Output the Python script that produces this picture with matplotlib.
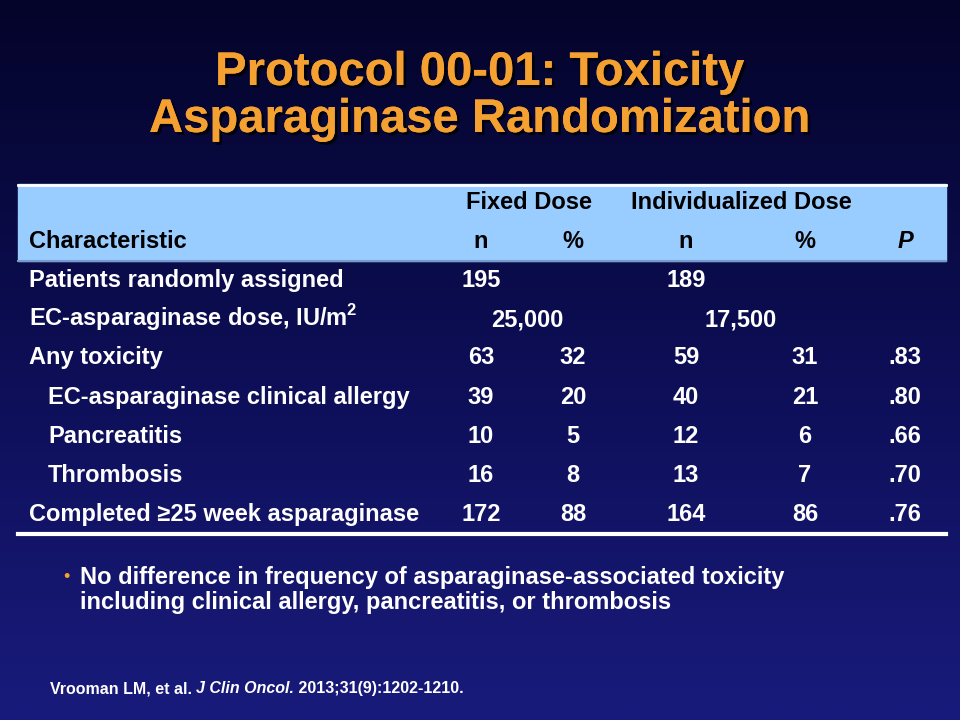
import numpy as np
import matplotlib.pyplot as plt
from matplotlib.colors import LinearSegmentedColormap
import matplotlib.patheffects as pe

plt.rcParams['font.family'] = ['Liberation Sans', 'DejaVu Sans']
plt.rcParams['mathtext.fontset'] = 'custom'
plt.rcParams['mathtext.rm'] = 'Liberation Sans:bold'

# table content
title_lines = ["Protocol 00-01: Toxicity", "Asparaginase Randomization"]
group_labels = ["Fixed Dose", "Individualized Dose"]
sub_labels = ["n", "%", "n", "%"]
row_labels = ["Patients randomly assigned",
              "EC-asparaginase dose, IU/m$^{2}$",
              "Any toxicity",
              "EC-asparaginase clinical allergy",
              "Pancreatitis",
              "Thrombosis",
              "Completed \u226525 week asparaginase"]
row_indent = [False, False, False, True, True, True, False]
fixed_n = ["195", "", "63", "39", "10", "16", "172"]
fixed_pct = ["", "", "32", "20", "5", "8", "88"]
indiv_n = ["189", "", "59", "40", "12", "13", "164"]
indiv_pct = ["", "", "31", "21", "6", "7", "86"]
p_values = ["", "", ".83", ".80", ".66", ".70", ".76"]
dose_fixed = "25,000"
dose_indiv = "17,500"
bullet_lines = ["No difference in frequency of asparaginase-associated toxicity",
                "including clinical allergy, pancreatitis, or thrombosis"]
ref_parts = [("Vrooman LM, et al. ", 'normal'), ("J Clin Oncol.", 'italic'),
             (" 2013;31(9):1202-1210.", 'normal')]

fig = plt.figure(figsize=(9.6, 7.2), dpi=100)
ax = fig.add_axes([0, 0, 1, 1])
ax.set_xlim(0, 960)
ax.set_ylim(720, 0)
ax.axis('off')

# background gradient
bg = LinearSegmentedColormap.from_list('bg', ['#04042a', '#0d0e55', '#191b7c'])
grad = np.linspace(0, 1, 256).reshape(-1, 1)
ax.imshow(grad, cmap=bg, extent=[0, 960, 720, 0], aspect='auto', zorder=0)

# title
shadow = [pe.withSimplePatchShadow(offset=(2, -2), shadow_rgbFace='black', alpha=0.8), pe.Normal()]
for i, line in enumerate(title_lines):
    ax.text(480, 85 + i * 47, line, color='#f5a131', fontsize=34, fontweight='bold',
            ha='center', va='baseline', path_effects=shadow, zorder=3)

# header band
ax.add_patch(plt.Rectangle((18, 184), 928, 77, color='#99ccff', zorder=1))
ax.plot([18, 946], [184.5, 184.5], color='white', lw=2, zorder=2)
ax.plot([18, 946], [261, 261], color='#7a9ccc', lw=1.5, zorder=2)

FS = 17
BL = 7  # baseline offset from row centre
hdr = dict(color='black', fontsize=FS, fontweight='bold', va='baseline', zorder=3)
ax.text(529, 202 + BL, group_labels[0], ha='center', **hdr)
ax.text(741, 202 + BL, group_labels[1], ha='center', **hdr)
ax.text(29, 241 + BL, "Characteristic", ha='left', **hdr)
col_x = [481, 573, 686, 805]
for x, lab in zip(col_x, sub_labels):
    ax.text(x, 241 + BL, lab, ha='center', **hdr)
ax.text(905, 241 + BL, "P", ha='center', style='italic', **hdr)

# body rows
body = dict(color='white', fontsize=FS, fontweight='bold', va='baseline', zorder=3)
row_y = [280, 319, 357, 397, 436, 475, 514]
for i, y in enumerate(row_y):
    ax.text(48 if row_indent[i] else 29, y + BL, row_labels[i], ha='left', **body)
    for x, col in zip(col_x, [fixed_n, fixed_pct, indiv_n, indiv_pct]):
        if col[i]:
            ax.text(x, y + BL, col[i], ha='center', **body)
    if p_values[i]:
        ax.text(905, y + BL, p_values[i], ha='center', **body)
ax.text(527, row_y[1] + BL, dose_fixed, ha='center', **body)
ax.text(741, row_y[1] + BL, dose_indiv, ha='center', **body)

ax.plot([18, 946], [533.5, 533.5], color='white', lw=3, zorder=2)

# bullet
ax.text(66, 578, "\u2022", color='#f5a131', fontsize=13, ha='center', va='center', zorder=3)
for i, line in enumerate(bullet_lines):
    ax.text(80, 584 + i * 25, line, color='white', fontsize=FS, fontweight='bold',
            ha='left', va='baseline', zorder=3)

# reference, pieces placed one after another
fig.canvas.draw()
renderer = fig.canvas.get_renderer()
x = 50
for txt, st in ref_parts:
    t = ax.text(x, 693, txt, color='white', fontsize=11.5, fontweight='bold',
                style=st, ha='left', va='baseline', zorder=3)
    bb = t.get_window_extent(renderer)
    x += bb.width

fig.savefig('out.png', dpi=100)
